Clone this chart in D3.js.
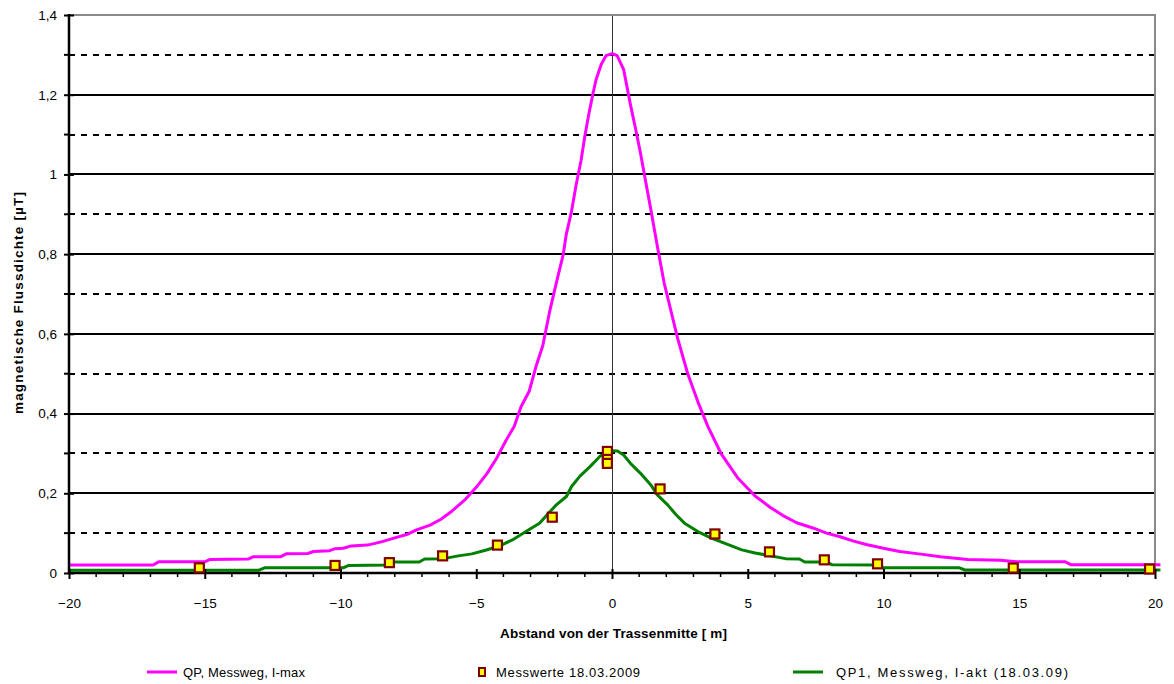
<!DOCTYPE html>
<html>
<head>
<meta charset="utf-8">
<script src="https://cdn.jsdelivr.net/npm/d3@7"></script>
<style>
  body { margin: 0; background: #fff; }
  svg { display: block; font-family: "Liberation Sans", Arial, sans-serif; }
</style>
</head>
<body>
<svg id="chart" width="1174" height="684"></svg>
<script>
// ---- data ----
const imaxX = [-20, -16.9, -16.7, -15.0, -14.8, -13.4, -13.2, -12.2, -12.0, -11.2, -11.0, -10.4, -10.2, -9.9, -9.6, -9.0, -8.5, -8.0, -7.5, -7.2, -6.7, -6.3, -5.9, -5.4, -5.0, -4.6, -4.25, -3.9, -3.6, -3.35, -3.05, -2.8, -2.55, -2.3, -2.05, -1.8, -1.68, -1.5, -1.32, -1.14, -1.0, -0.86, -0.71, -0.59, -0.4, -0.22, 0, 0.19, 0.43, 0.68, 0.87, 1.05, 1.24, 1.43, 1.68, 1.92, 2.17, 2.42, 2.79, 3.16, 3.53, 4.03, 4.65, 5.27, 5.82, 6.3, 6.8, 7.4, 7.9, 8.4, 8.9, 9.4, 10.0, 10.6, 11.3, 12.1, 13.1, 14.3, 14.9, 16.7, 16.9, 20.2];
const imaxB = [0.020, 0.020, 0.028, 0.028, 0.034, 0.035, 0.041, 0.041, 0.048, 0.049, 0.054, 0.056, 0.061, 0.062, 0.068, 0.070, 0.078, 0.088, 0.098, 0.108, 0.120, 0.135, 0.155, 0.185, 0.215, 0.250, 0.288, 0.333, 0.368, 0.417, 0.456, 0.518, 0.570, 0.655, 0.728, 0.798, 0.851, 0.904, 0.974, 1.035, 1.096, 1.149, 1.200, 1.237, 1.276, 1.298, 1.303, 1.298, 1.263, 1.175, 1.114, 1.053, 0.982, 0.912, 0.816, 0.728, 0.658, 0.588, 0.500, 0.430, 0.368, 0.298, 0.237, 0.193, 0.165, 0.144, 0.126, 0.113, 0.100, 0.091, 0.080, 0.071, 0.062, 0.054, 0.048, 0.041, 0.034, 0.032, 0.028, 0.028, 0.021, 0.021];

const aktX = [-20, -13.0, -12.8, -9.9, -9.7, -8.2, -8.0, -7.1, -6.9, -6.2, -5.66, -5.16, -4.66, -4.17, -3.67, -3.17, -2.67, -2.43, -2.05, -1.68, -1.49, -1.18, -0.81, -0.44, 0, 0.2, 0.43, 0.68, 1.05, 1.43, 1.67, 2.05, 2.36, 2.67, 3.16, 3.66, 4.28, 4.78, 5.27, 5.77, 6.39, 6.9, 7.1, 7.9, 8.1, 9.8, 10.0, 12.8, 13.0, 20.2];
const aktB = [0.007, 0.007, 0.013, 0.013, 0.019, 0.020, 0.0275, 0.0275, 0.035, 0.036, 0.043, 0.048, 0.057, 0.067, 0.083, 0.104, 0.125, 0.143, 0.171, 0.192, 0.217, 0.243, 0.267, 0.293, 0.307, 0.306, 0.296, 0.275, 0.250, 0.221, 0.196, 0.171, 0.146, 0.125, 0.104, 0.0875, 0.071, 0.058, 0.050, 0.044, 0.036, 0.035, 0.0275, 0.0275, 0.021, 0.020, 0.013, 0.013, 0.0075, 0.0075];

const messX = [-15.2, -10.2, -8.2, -6.24, -4.22, -2.2, -0.17, -0.17, -0.17, 1.77, 3.79, 5.8, 7.82, 9.78, 14.78, 19.8];
const messB = [0.013, 0.019, 0.026, 0.043, 0.070, 0.140, 0.305, 0.285, 0.275, 0.211, 0.098, 0.053, 0.033, 0.023, 0.0125, 0.010];

const xTicks = [-20, -15, -10, -5, 0, 5, 10, 15, 20];
const yTicks = [0, 0.2, 0.4, 0.6, 0.8, 1.0, 1.2, 1.4];
const yMinor = [0.1, 0.3, 0.5, 0.7, 0.9, 1.1, 1.3];
const seriesNames = ["QP, Messweg, I-max", "Messwerte 18.03.2009", "QP1, Messweg, I-akt (18.03.09)"];
const xTitle = "Abstand von der Trassenmitte [ m]";
const yTitle = "magnetische Flussdichte [µT]";

// ---- layout ----
const svg = d3.select("#chart");
const L = 69, R = 1155, T = 15, B = 573;
const x = d3.scaleLinear().domain([-20, 20]).range([L, R]);
const y = d3.scaleLinear().domain([0, 1.4]).range([B, T]);
const fmtY = d => d === 0 ? "0" : (d === 1 ? "1" : d3.format(".1f")(d).replace(".", ","));

// grid
const g = svg.append("g").attr("shape-rendering", "crispEdges");
g.selectAll("line.maj").data(yTicks.filter(d => d > 0 && d < 1.4)).join("line")
  .attr("x1", L).attr("x2", R).attr("y1", d => Math.round(y(d))).attr("y2", d => Math.round(y(d)))
  .attr("stroke", "#000").attr("stroke-width", 1.4);
g.selectAll("line.min").data(yMinor).join("line")
  .attr("x1", L).attr("x2", R).attr("y1", d => Math.round(y(d))).attr("y2", d => Math.round(y(d)))
  .attr("stroke", "#000").attr("stroke-width", 1.4).attr("stroke-dasharray", "6,6");

// zero line
svg.append("line").attr("x1", x(0)).attr("x2", x(0)).attr("y1", T).attr("y2", B)
  .attr("stroke", "#333").attr("stroke-width", 1).attr("shape-rendering", "crispEdges");

// top and right frame
svg.append("line").attr("x1", L).attr("x2", R + 1).attr("y1", T).attr("y2", T)
  .attr("stroke", "#8a8a8a").attr("stroke-width", 2);
svg.append("line").attr("x1", R).attr("x2", R).attr("y1", T).attr("y2", B)
  .attr("stroke", "#8a8a8a").attr("stroke-width", 2);

// curves
const line = d3.line().x(d => x(d[0])).y(d => y(d[1]));
svg.append("path").datum(imaxX.map((v, i) => [v, imaxB[i]]))
  .attr("d", line).attr("fill", "none").attr("stroke", "#ff00ff").attr("stroke-width", 3)
  .attr("stroke-linejoin", "round");
svg.append("path").datum(aktX.map((v, i) => [v, aktB[i]]))
  .attr("d", line).attr("fill", "none").attr("stroke", "#008000").attr("stroke-width", 3)
  .attr("stroke-linejoin", "round");

// axes
const yAxis = svg.append("g").attr("transform", `translate(${L},0)`)
  .call(d3.axisLeft(y).tickValues(yTicks).tickFormat(fmtY).tickSize(5).tickPadding(7));
yAxis.select(".domain").remove();
yAxis.selectAll(".tick line").attr("x1", -5).attr("x2", 5).attr("stroke-width", 2);
yAxis.selectAll(".tick text").attr("font-size", 13.5).attr("fill", "#000")
  .attr("font-family", "Liberation Sans, Arial, sans-serif");
svg.append("g").selectAll("line").data(yMinor).join("line")
  .attr("x1", L - 5).attr("x2", L).attr("y1", d => y(d)).attr("y2", d => y(d))
  .attr("stroke", "#000").attr("stroke-width", 2);
svg.append("line").attr("x1", L).attr("x2", L).attr("y1", T - 1).attr("y2", B + 1)
  .attr("stroke", "#000").attr("stroke-width", 2.5);

const xAxis = svg.append("g").attr("transform", `translate(0,${B})`)
  .call(d3.axisBottom(x).tickValues(xTicks).tickFormat(d3.format("d")).tickSize(6).tickPadding(19));
xAxis.select(".domain").remove();
xAxis.selectAll(".tick line").attr("y1", -4).attr("y2", 6).attr("stroke-width", 2);
xAxis.selectAll(".tick text").attr("font-size", 13.5).attr("fill", "#000")
  .attr("font-family", "Liberation Sans, Arial, sans-serif");
svg.append("g").selectAll("line").data(d3.range(-19, 20).filter(d => d % 5 !== 0)).join("line")
  .attr("x1", d => x(d)).attr("x2", d => x(d)).attr("y1", B).attr("y2", B + 4)
  .attr("stroke", "#000").attr("stroke-width", 1.5);
svg.append("line").attr("x1", L - 1).attr("x2", R + 1).attr("y1", B).attr("y2", B)
  .attr("stroke", "#000").attr("stroke-width", 2.5);

// markers
const ms = 9;
svg.append("g").selectAll("rect").data(messX.map((v, i) => [v, messB[i]])).join("rect")
  .attr("x", d => x(d[0]) - ms / 2).attr("y", d => y(d[1]) - ms / 2)
  .attr("width", ms).attr("height", ms)
  .attr("fill", "#ffff00").attr("stroke", "#800000").attr("stroke-width", 2.2);

// titles
svg.append("text").attr("x", 500).attr("y", 638)
  .attr("font-size", 13.5).attr("font-weight", "bold")
  .attr("textLength", 227).attr("lengthAdjust", "spacing").text(xTitle);
svg.append("text").attr("transform", `translate(23,414) rotate(-90)`)
  .attr("font-size", 13.5).attr("font-weight", "bold")
  .attr("textLength", 222).attr("lengthAdjust", "spacing").text(yTitle);

// legend
const ly = 672;
const lg = svg.append("g").attr("font-size", 13);
lg.append("line").attr("x1", 147).attr("x2", 177).attr("y1", ly).attr("y2", ly)
  .attr("stroke", "#ff00ff").attr("stroke-width", 3);
lg.append("text").attr("x", 183).attr("y", ly + 5)
  .attr("textLength", 122).attr("lengthAdjust", "spacing").text(seriesNames[0]);
lg.append("rect").attr("x", 479).attr("y", ly - 4).attr("width", 6).attr("height", 8)
  .attr("fill", "#ffff00").attr("stroke", "#800000").attr("stroke-width", 2);
lg.append("text").attr("x", 496).attr("y", ly + 5)
  .attr("textLength", 144).attr("lengthAdjust", "spacing").text(seriesNames[1]);
lg.append("line").attr("x1", 793).attr("x2", 823).attr("y1", ly).attr("y2", ly)
  .attr("stroke", "#008000").attr("stroke-width", 3);
lg.append("text").attr("x", 836).attr("y", ly + 5)
  .attr("textLength", 232).attr("lengthAdjust", "spacing").text(seriesNames[2]);
</script>
</body>
</html>
